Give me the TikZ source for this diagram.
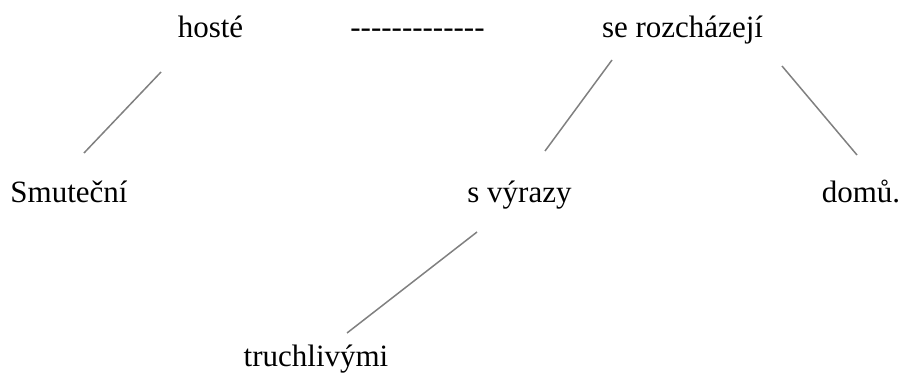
\documentclass[tikz,border=0pt]{standalone}
\usepackage{fontspec}
\setmainfont{Liberation Serif}
\usetikzlibrary{calc}
\tikzset{
  word/.style={anchor=base, inner sep=0pt, font=\fontsize{31}{37}\selectfont},
  link/.style={draw={rgb,255:red,128;green,128;blue,128}, line width=1.5pt}
}
\begin{document}
\begin{tikzpicture}[x=1pt, y=-1pt]
  \useasboundingbox (0,0) rectangle (901,372);
  % words of the sentence, placed on their baselines
  \node[word] (hoste) at (210.5,37) {hosté};
  % separated hyphens, so they stay thirteen single hyphens
  \node[word] (dash)  at (417.5,37) {-{}-{}-{}-{}-{}-{}-{}-{}-{}-{}-{}-{}-};
  \node[word] (pred)  at (682.5,37) {se rozcházejí};
  \node[word] (smut)  at (69,202)   {Smuteční};
  \node[word] (vyraz) at (519.5,202) {s výrazy};
  \node[word] (domu)  at (861,202)  {domů.};
  \node[word] (truch) at (316,366)  {truchlivými};
  % dependency links
  \draw[link] ($(hoste.base)+(-49.5,35)$) -- ($(smut.base)+(15,-49)$);
  \draw[link] ($(pred.base)+(-70.5,23)$) -- ($(vyraz.base)+(25.5,-51)$);
  \draw[link] ($(pred.base)+(99.5,29)$)  -- ($(domu.base)+(-4,-47)$);
  \draw[link] ($(vyraz.base)+(-42.5,30)$) -- ($(truch.base)+(31,-33)$);
\end{tikzpicture}
\end{document}
